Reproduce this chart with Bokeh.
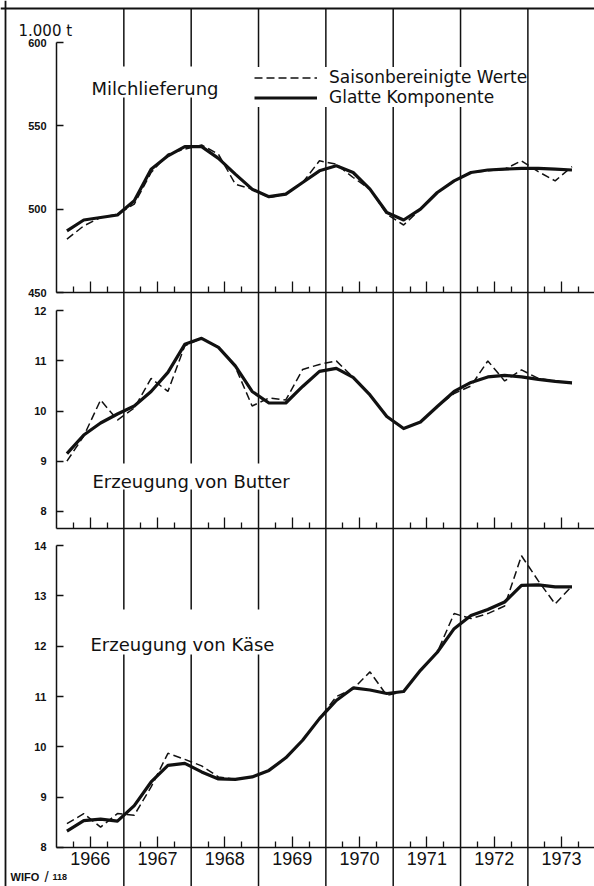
from bokeh.plotting import figure
from bokeh.models import Range1d, LinearAxis, FixedTicker, Label, Legend, LegendItem, Span
from bokeh.embed import file_html
from bokeh.resources import INLINE

# ---------------- data ----------------
years = [1966, 1967, 1968, 1969, 1970, 1971, 1972, 1973]
year_labels = ["1966", "1967", "1968", "1969", "1970", "1971", "1972", "1973"]
quarters = [1, 2, 3, 4]
n_obs = 31  # 1966 Q1 ... 1973 Q3

milk_sa = [482, 490, 495, 497,
           503, 522, 533, 536,
           538.5, 533, 515, 512,
           507, 509, 516, 529,
           527, 519, 512, 497,
           490.5, 500, 510, 517,
           522, 523, 524, 529,
           522.5, 517, 525.5]
milk_trend = [487, 493.5, 495, 496.5,
              505, 524, 532, 537.5,
              537.5, 530.5, 521, 512,
              507.5, 509, 516, 523,
              526, 522, 512, 498,
              493.5, 500, 510, 517,
              522, 523.5, 524, 524.5,
              524.5, 524, 523.5]

butter_sa = [9.0, 9.5, 10.22, 9.82,
             10.06, 10.65, 10.39, 11.3,
             11.45, 11.28, 10.88, 10.1,
             10.26, 10.22, 10.83, 10.93,
             11.0, 10.67, 10.32, 9.89,
             9.65, 9.78, 10.09, 10.35,
             10.5, 11.0, 10.6, 10.82,
             10.65, 10.6, 10.55]
butter_trend = [9.15, 9.52, 9.76, 9.94,
                10.1, 10.39, 10.77, 11.33,
                11.45, 11.27, 10.9, 10.39,
                10.16, 10.16, 10.49, 10.79,
                10.85, 10.67, 10.32, 9.89,
                9.65, 9.78, 10.09, 10.39,
                10.57, 10.68, 10.71, 10.68,
                10.63, 10.59, 10.56]

cheese_sa = [8.47, 8.67, 8.4, 8.67,
             8.64, 9.2, 9.87, 9.75,
             9.62, 9.4, 9.35, 9.4,
             9.53, 9.78, 10.13, 10.56,
             11.0, 11.15, 11.49, 11.02,
             11.1, 11.52, 11.88, 12.65,
             12.55, 12.65, 12.8, 13.8,
             13.3, 12.84, 13.2]
cheese_trend = [8.32, 8.53, 8.56, 8.52,
                8.83, 9.3, 9.63, 9.67,
                9.5, 9.36, 9.35, 9.4,
                9.53, 9.78, 10.13, 10.56,
                10.92, 11.17, 11.13, 11.06,
                11.1, 11.52, 11.88, 12.35,
                12.61, 12.73, 12.88, 13.21,
                13.22, 13.18, 13.18]

milk_ticks = [450, 500, 550, 600]
butter_ticks = [8, 9, 10, 11, 12]
cheese_ticks = [8, 9, 10, 11, 12, 13, 14]

unit_label = "1.000 t"
panel_titles = ["Milchlieferung", "Erzeugung von Butter", "Erzeugung von Käse"]
legend_labels = ["Saisonbereinigte Werte", "Glatte Komponente"]
source_note = ["WIFO", "/", "118"]

# ---------------- layout helpers ----------------
W, H = 594, 886
X0, PPY = 56.0, 67.34          # pixel of 1966.0, pixels per year
Q_OFFSET = 0.03                 # small drawing offset of the quarterly points

t = [y + (q - 0.5) / 4 + Q_OFFSET for y in years for q in quarters][:n_obs]
mid_years = [y + 0.5 for y in years]
quarter_minor = [y + f for y in years for f in (0.25, 0.75)]
year_lines = years[1:]


def lin_range(v1, p1, v2, p2):
    s = (p1 - p2) / (v2 - v1)
    return Range1d(v1 - (H - p1) / s, v1 + p1 / s), s


milk_rng, _ = lin_range(450, 292, 600, 42)
butter_rng, s_b = lin_range(8, 510.7, 12, 310.3)
cheese_rng, _ = lin_range(8, 846.8, 14, 545.2)
BASE = {"milk": 292, "butter": 528, "cheese": 847}
butter_low = 8 - (BASE["butter"] - 510.7) / s_b

p = figure(width=W, height=H, x_range=Range1d(0, W), y_range=Range1d(H, 0),
           x_axis_type=None, y_axis_type=None, min_border=0,
           toolbar_location=None, output_backend="svg",
           outline_line_color=None, background_fill_color="white",
           border_fill_color="white")
p.extra_x_ranges = {"year": Range1d(1966 - X0 / PPY, 1966 + (W - X0) / PPY)}
p.extra_y_ranges = {"milk": milk_rng, "butter": butter_rng, "cheese": cheese_rng}

INK = "#111111"

# frame lines (left and top edge of the sheet)
p.add_layout(Span(location=5, dimension="height", line_color=INK, line_width=1.8))
p.add_layout(Span(location=8, dimension="width", line_color=INK, line_width=1.8))

# vertical year lines
p.segment(x0=year_lines, y0=[8] * len(year_lines), x1=year_lines, y1=[H] * len(year_lines),
          x_range_name="year", line_color=INK, line_width=1.5)

# white gaps behind the panel titles
p.quad(left=[88, 86, 84], right=[224, 300, 284], top=[66, 463, 609], bottom=[97, 489, 654],
       fill_color="white", line_color=None)

# series
r_ms = p.line(t, milk_sa, x_range_name="year", y_range_name="milk",
              line_color=INK, line_width=1.5, line_dash="8 4")
r_mt = p.line(t, milk_trend, x_range_name="year", y_range_name="milk",
              line_color=INK, line_width=3.2, line_join="round")
p.line(t, butter_sa, x_range_name="year", y_range_name="butter",
       line_color=INK, line_width=1.5, line_dash="8 4")
p.line(t, butter_trend, x_range_name="year", y_range_name="butter",
       line_color=INK, line_width=3.2, line_join="round")
p.line(t, cheese_sa, x_range_name="year", y_range_name="cheese",
       line_color=INK, line_width=1.5, line_dash="8 4")
p.line(t, cheese_trend, x_range_name="year", y_range_name="cheese",
       line_color=INK, line_width=3.2, line_join="round")

# y axes
for name, ticks, bounds in [("milk", milk_ticks, (450, 600)),
                            ("butter", butter_ticks, (butter_low, 12)),
                            ("cheese", cheese_ticks, (8, 14))]:
    ax = LinearAxis(y_range_name=name, fixed_location=X0, bounds=bounds,
                    ticker=FixedTicker(ticks=ticks, minor_ticks=[]),
                    major_tick_in=7, major_tick_out=0, minor_tick_in=0, minor_tick_out=0,
                    axis_line_color=INK, axis_line_width=1.5,
                    major_tick_line_color=INK, major_tick_line_width=1.5,
                    major_label_standoff=10,
                    major_label_text_font="Liberation Sans",
                    major_label_text_font_style="bold",
                    major_label_text_font_size="11px",
                    major_label_text_color=INK)
    p.add_layout(ax, "left")

# x axes (quarter ticks on each panel base line)
x_end = p.extra_x_ranges["year"].end
for name in ["milk", "butter", "cheese"]:
    if name == "cheese":
        overrides = {m: lab for m, lab in zip(mid_years, year_labels)}
    else:
        overrides = {m: "" for m in mid_years}
    ax = LinearAxis(x_range_name="year", fixed_location=BASE[name], bounds=(1966, x_end),
                    ticker=FixedTicker(ticks=mid_years, minor_ticks=quarter_minor),
                    major_tick_in=11, major_tick_out=0, minor_tick_in=6, minor_tick_out=0,
                    axis_line_color=INK, axis_line_width=1.5,
                    major_tick_line_color=INK, major_tick_line_width=1.3,
                    minor_tick_line_color=INK, minor_tick_line_width=1.3,
                    major_label_overrides=overrides,
                    major_label_standoff=4,
                    major_label_text_font="Liberation Sans",
                    major_label_text_font_size="18px",
                    major_label_text_color=INK)
    p.add_layout(ax, "below")

# texts
TF = "DejaVu Sans"
p.add_layout(Label(x=18, y=30, text=unit_label, text_font=TF, text_font_size="15px",
                   text_color=INK, text_baseline="alphabetic"))
for (xx, yy), txt in zip([(91, 88), (92, 481), (90, 644)], panel_titles):
    p.add_layout(Label(x=xx, y=yy, text=txt, text_font=TF, text_font_size="18px",
                       text_color=INK, text_baseline="alphabetic"))
p.add_layout(Label(x=10, y=876, text=source_note[0], text_font="Liberation Sans",
                   text_font_style="bold", text_font_size="11px", text_color=INK,
                   text_baseline="alphabetic"))
p.add_layout(Label(x=44, y=876, text=source_note[1], text_font="Liberation Sans",
                   text_font_size="15px", text_color=INK, text_baseline="alphabetic"))
p.add_layout(Label(x=52, y=876, text=source_note[2], text_font="Liberation Sans",
                   text_font_style="bold", text_font_size="9px", text_color=INK,
                   text_baseline="alphabetic"))

legend = Legend(items=[LegendItem(label=legend_labels[0], renderers=[r_ms]),
                       LegendItem(label=legend_labels[1], renderers=[r_mt])],
                location=(254, H - 107), orientation="vertical",
                glyph_width=63, glyph_height=19, label_height=19, label_standoff=12,
                padding=6, spacing=0, margin=0,
                label_text_font=TF, label_text_font_size="17px", label_text_color=INK,
                border_line_color=None, background_fill_color="white",
                background_fill_alpha=1.0)
p.add_layout(legend)

open("out.html", "w").write(file_html(p, INLINE))
